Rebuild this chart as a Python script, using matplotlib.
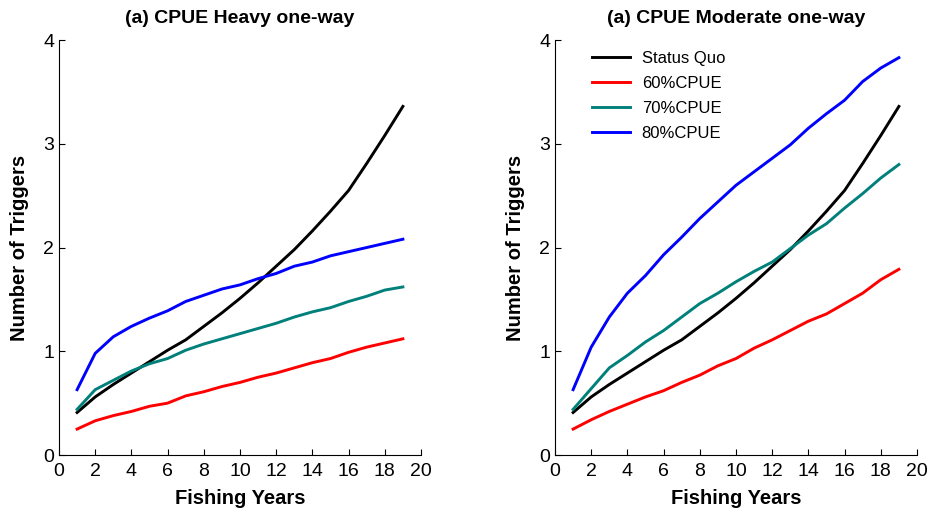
import matplotlib
matplotlib.use("Agg")
import matplotlib.pyplot as plt

plt.rcParams['font.family'] = ['Liberation Sans', 'DejaVu Sans']

years = list(range(1, 20))

# left panel: CPUE heavy one-way
heavy_status_quo = [0.41, 0.56, 0.68, 0.79, 0.90, 1.01, 1.11, 1.24, 1.37, 1.51, 1.66, 1.82, 1.98, 2.16, 2.35, 2.55, 2.81, 3.08, 3.36]
heavy_60 = [0.25, 0.33, 0.38, 0.42, 0.47, 0.50, 0.57, 0.61, 0.66, 0.70, 0.75, 0.79, 0.84, 0.89, 0.93, 0.99, 1.04, 1.08, 1.12]
heavy_70 = [0.44, 0.63, 0.72, 0.81, 0.88, 0.93, 1.01, 1.07, 1.12, 1.17, 1.22, 1.27, 1.33, 1.38, 1.42, 1.48, 1.53, 1.59, 1.62]
heavy_80 = [0.63, 0.98, 1.14, 1.24, 1.32, 1.39, 1.48, 1.54, 1.60, 1.64, 1.70, 1.75, 1.82, 1.86, 1.92, 1.96, 2.00, 2.04, 2.08]

# right panel: CPUE moderate one-way
mod_status_quo = heavy_status_quo
mod_60 = [0.25, 0.34, 0.42, 0.49, 0.56, 0.62, 0.70, 0.77, 0.86, 0.93, 1.03, 1.11, 1.20, 1.29, 1.36, 1.46, 1.56, 1.69, 1.79]
mod_70 = [0.44, 0.64, 0.84, 0.96, 1.09, 1.20, 1.33, 1.46, 1.56, 1.67, 1.77, 1.86, 1.99, 2.12, 2.23, 2.38, 2.52, 2.67, 2.80]
mod_80 = [0.63, 1.04, 1.33, 1.56, 1.73, 1.93, 2.10, 2.28, 2.44, 2.60, 2.73, 2.86, 2.99, 3.15, 3.29, 3.42, 3.60, 3.73, 3.83]

labels = ["Status Quo", "60%CPUE", "70%CPUE", "80%CPUE"]
colors = ["#000000", "#ff0000", "#00807a", "#0000ff"]
titles = ["(a) CPUE Heavy one-way", "(a) CPUE Moderate one-way"]

fig = plt.figure(figsize=(9.32, 5.13), dpi=100)
ax1 = fig.add_axes([0.0633, 0.113, 0.3884, 0.809])
ax2 = fig.add_axes([0.5955, 0.113, 0.3884, 0.809])

panels = [(ax1, [heavy_status_quo, heavy_60, heavy_70, heavy_80]),
          (ax2, [mod_status_quo, mod_60, mod_70, mod_80])]

for i, (ax, series) in enumerate(panels):
    for vals, lab, col in zip(series, labels, colors):
        ax.plot(years, vals, color=col, linewidth=2.1, label=lab)
    ax.set_xlim(0, 20)
    ax.set_ylim(0, 4)
    ax.set_xticks(range(0, 21, 2))
    ax.set_yticks(range(0, 5))
    ax.spines['top'].set_visible(False)
    ax.spines['right'].set_visible(False)
    ax.tick_params(direction='in', length=4, labelsize=14)
    ax.tick_params(axis='x', pad=6)
    ax.set_xlabel("Fishing Years", fontsize=14.5, fontweight='bold', labelpad=6)
    ax.set_ylabel("Number of Triggers", fontsize=14.5, fontweight='bold', labelpad=10)
    ax.set_title(titles[i], fontsize=14, fontweight='bold', pad=12)

ax2.legend(loc='upper left', bbox_to_anchor=(0.06, 1.01), frameon=False,
           fontsize=12, handlelength=2.3, handletextpad=0.7, labelspacing=0.6)

fig.savefig("out.png", dpi=100)
